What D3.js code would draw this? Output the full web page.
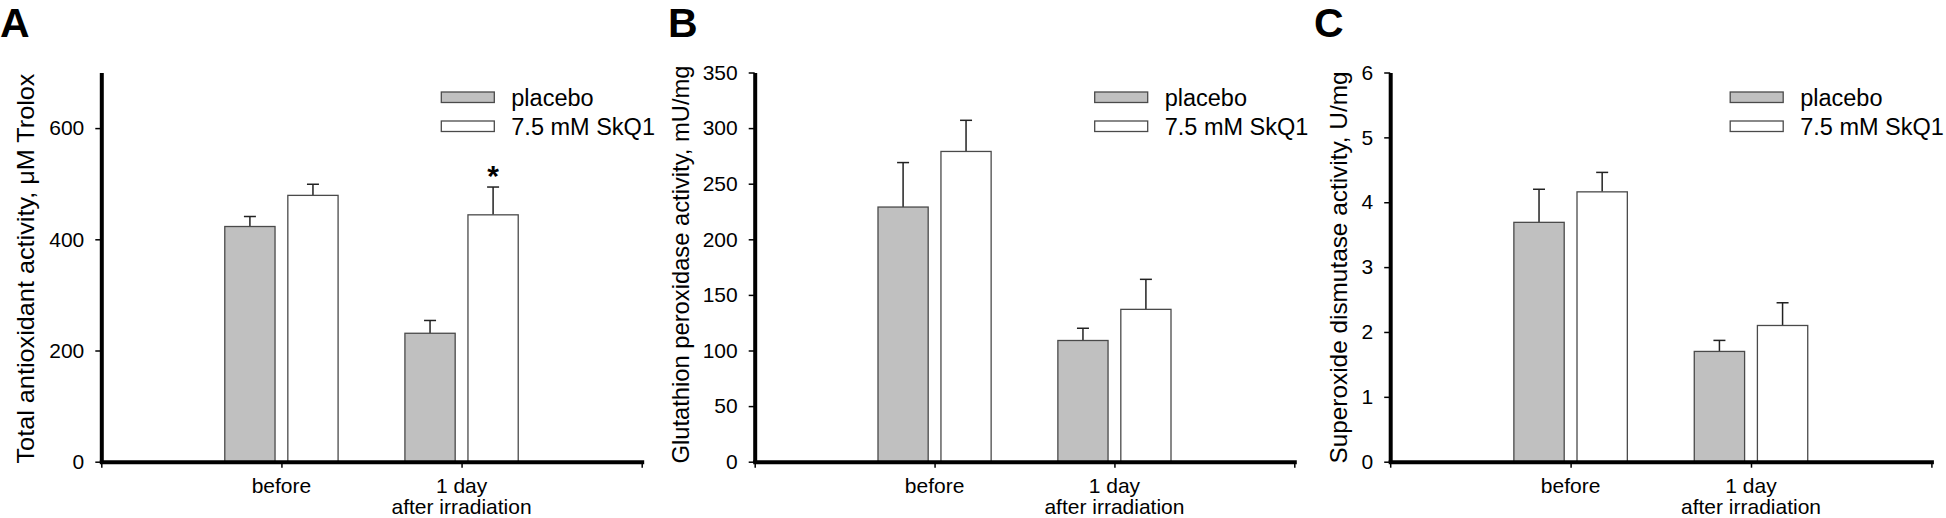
<!DOCTYPE html>
<html>
<head>
<meta charset="utf-8">
<script src="https://cdn.jsdelivr.net/npm/d3@7"></script>
<style>
  html, body { margin: 0; padding: 0; background: #fff; }
  svg { display: block; }
</style>
</head>
<body>
<script>
// ---------------- DATA ----------------
const categoryLines = [["before"], ["1 day", "after irradiation"]];
const seriesNames = ["placebo", "7.5 mM SkQ1"];
const panelLetters = ["A", "B", "C"];
const yLabels = [
  "Total antioxidant activity, \u03BCM Trolox",
  "Glutathion peroxidase activity, mU/mg",
  "Superoxide dismutase activity, U/mg"
];
const yMaxes = [700, 350, 6];
const yTicksA = [0, 200, 400, 600];
const yTicksB = [0, 50, 100, 150, 200, 250, 300, 350];
const yTicksC = [0, 1, 2, 3, 4, 5, 6];

// Panel A: total antioxidant activity
const placeboA = [423, 231];
const placeboErrA = [18, 23];
const skq1A = [479, 444];
const skq1ErrA = [20, 50];
const skq1StarA = [false, true];

// Panel B: glutathion peroxidase
const placeboB = [229, 109];
const placeboErrB = [40, 11];
const skq1B = [279, 137];
const skq1ErrB = [28, 27];
const skq1StarB = [false, false];

// Panel C: superoxide dismutase
const placeboC = [3.69, 1.70];
const placeboErrC = [0.51, 0.17];
const skq1C = [4.16, 2.10];
const skq1ErrC = [0.30, 0.35];
const skq1StarC = [false, false];

// ---------------- LAYOUT ----------------
const W = 1946, H = 518;
const FONT = "'Liberation Sans', Arial, Helvetica, sans-serif";
const yTop = 72.5, yBottom = 461.7;
const layouts = [
  { x0: 101.3, x1: 641.7, letterX: 0, labelX: 33.5, labelLen: 390 },
  { x0: 754.7, x1: 1294.3, letterX: 668, labelX: 689, labelLen: 398 },
  { x0: 1390.2, x1: 1931.4, letterX: 1314, labelX: 1347, labelLen: 392 }
];
const fills = ["#c0c0c0", "#ffffff"];

const panels = [
  { yMax: yMaxes[0], ticks: yTicksA, series: [[placeboA, placeboErrA, [false, false]], [skq1A, skq1ErrA, skq1StarA]] },
  { yMax: yMaxes[1], ticks: yTicksB, series: [[placeboB, placeboErrB, [false, false]], [skq1B, skq1ErrB, skq1StarB]] },
  { yMax: yMaxes[2], ticks: yTicksC, series: [[placeboC, placeboErrC, [false, false]], [skq1C, skq1ErrC, skq1StarC]] }
];

const svg = d3.select("body").append("svg")
  .attr("width", W).attr("height", H)
  .style("background", "#fff");

panels.forEach((p, i) => {
  const L = layouts[i];
  const g = svg.append("g");
  const x = d3.scaleLinear().domain([0, 3]).range([L.x0, L.x1]);
  const y = d3.scaleLinear().domain([0, p.yMax]).range([yBottom, yTop]);
  const barW = x(0.279) - x(0);
  const off = x(0.175) - x(0);

  // bars + error bars
  p.series.forEach((s, si) => {
    const [vals, errs, stars] = s;
    const dx = si === 0 ? -off : off;
    const rows = vals.map((v, j) => ({ v, e: errs[j], star: stars[j], cx: x(j + 1) + dx }));

    g.selectAll(null).data(rows).enter().append("line")
      .attr("x1", d => d.cx).attr("x2", d => d.cx)
      .attr("y1", d => y(d.v)).attr("y2", d => y(d.v + d.e))
      .attr("stroke", "#222").attr("stroke-width", 1.5);
    g.selectAll(null).data(rows).enter().append("line")
      .attr("x1", d => d.cx - 6).attr("x2", d => d.cx + 6)
      .attr("y1", d => y(d.v + d.e)).attr("y2", d => y(d.v + d.e))
      .attr("stroke", "#222").attr("stroke-width", 1.5);

    g.selectAll(null).data(rows).enter().append("rect")
      .attr("x", d => d.cx - barW / 2)
      .attr("y", d => y(d.v))
      .attr("width", barW)
      .attr("height", d => y(0) - y(d.v))
      .attr("fill", fills[si])
      .attr("stroke", "#4a4a4a")
      .attr("stroke-width", 1.3);

    g.selectAll(null).data(rows.filter(d => d.star)).enter().append("text")
      .attr("x", d => d.cx).attr("y", d => y(d.v + d.e) - 1)
      .attr("text-anchor", "middle")
      .attr("font-family", FONT).attr("font-weight", "bold").attr("font-size", 30)
      .text("*");
  });

  // y axis
  const yAxis = d3.axisLeft(y).tickValues(p.ticks).tickSize(6).tickSizeOuter(0).tickPadding(11)
    .tickFormat(d3.format("d"));
  const ya = g.append("g").attr("transform", `translate(${L.x0},0)`).call(yAxis);
  ya.select(".domain").attr("stroke", "#000").attr("stroke-width", 4);
  ya.selectAll(".tick line").attr("stroke", "#000").attr("stroke-width", 1.5);
  ya.selectAll(".tick text").attr("font-family", FONT).attr("font-size", 21).attr("fill", "#000");

  // x axis
  const xAxis = d3.axisBottom(x).tickValues([0, 1, 2, 3]).tickSize(6).tickSizeOuter(0).tickFormat("");
  const xa = g.append("g").attr("transform", `translate(0,${yBottom})`).call(xAxis);
  xa.select(".domain").attr("stroke", "#000").attr("stroke-width", 4).attr("stroke-linecap", "square");
  xa.selectAll(".tick line").attr("stroke", "#000").attr("stroke-width", 1.5);

  // category labels
  categoryLines.forEach((lines, j) => {
    const t = g.append("text")
      .attr("text-anchor", "middle")
      .attr("font-family", FONT).attr("font-size", 21).attr("fill", "#000");
    lines.forEach((ln, k) => {
      t.append("tspan").attr("x", x(j + 1)).attr("y", 493 + k * 20.6).text(ln);
    });
  });

  // y label
  g.append("text")
    .attr("transform", `translate(${L.labelX},463.5) rotate(-90)`)
    .attr("text-anchor", "start")
    .attr("font-family", FONT).attr("font-size", 24).attr("fill", "#000")
    .attr("textLength", L.labelLen).attr("lengthAdjust", "spacingAndGlyphs")
    .text(yLabels[i]);

  // panel letter
  g.append("text")
    .attr("x", L.letterX).attr("y", 36.5)
    .attr("font-family", FONT).attr("font-weight", "bold").attr("font-size", 41).attr("fill", "#000")
    .text(panelLetters[i]);

  // legend
  const legY = [92, 121];
  seriesNames.forEach((name, si) => {
    g.append("rect")
      .attr("x", L.x0 + 340).attr("y", legY[si])
      .attr("width", 53).attr("height", 10.5)
      .attr("fill", fills[si]).attr("stroke", "#4a4a4a").attr("stroke-width", 1.3);
    g.append("text")
      .attr("x", L.x0 + 410).attr("y", legY[si] + 14)
      .attr("font-family", FONT).attr("font-size", 23.5).attr("fill", "#000")
      .text(name);
  });
});
</script>
</body>
</html>
